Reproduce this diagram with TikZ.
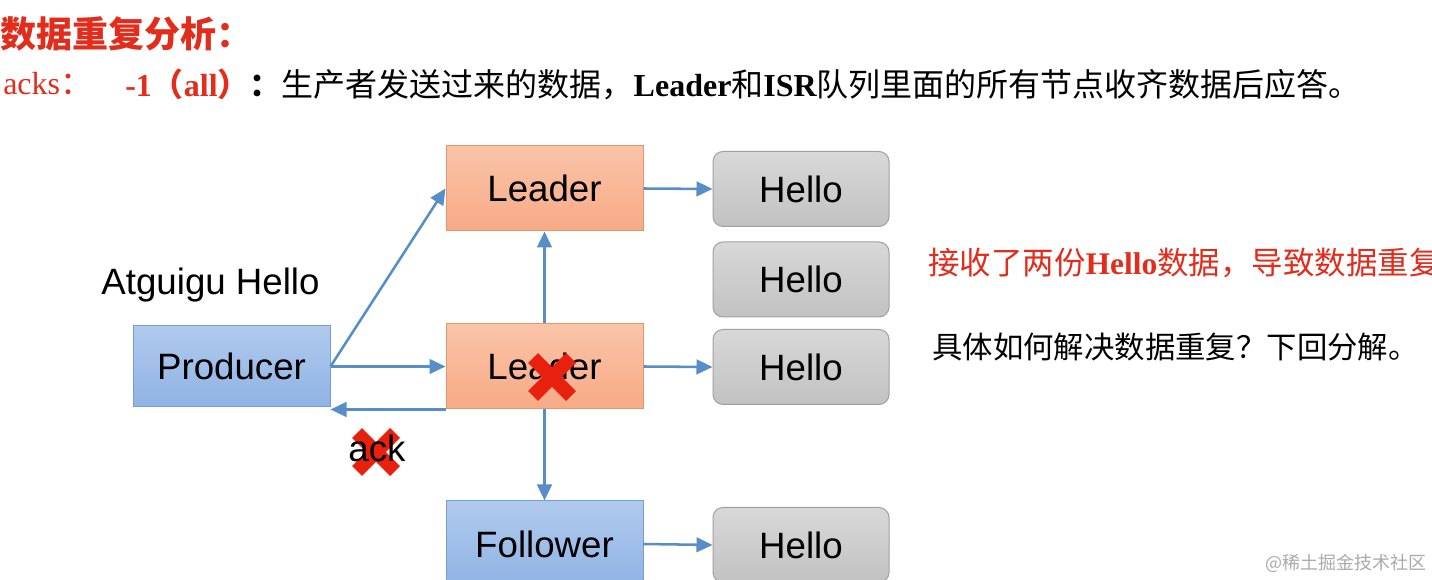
\documentclass[tikz,border=0pt]{standalone}
\usepackage{fontspec}
\setmainfont{Liberation Serif}
\setsansfont{Liberation Sans}
\newfontfamily\cjk{Noto Sans CJK SC}
\usetikzlibrary{arrows.meta}
\definecolor{redt}{RGB}{226,44,28}
\definecolor{xred}{RGB}{232,32,14}
\definecolor{arrc}{RGB}{88,142,200}
\definecolor{ldrT}{RGB}{250,196,168}
\definecolor{ldrD}{RGB}{247,170,134}
\definecolor{ldrB}{RGB}{226,150,110}
\definecolor{bluT}{RGB}{176,202,238}
\definecolor{bluD}{RGB}{143,179,228}
\definecolor{bluB}{RGB}{118,158,210}
\definecolor{helT}{RGB}{216,216,216}
\definecolor{helD}{RGB}{194,194,194}
\definecolor{helB}{RGB}{160,160,160}
\definecolor{wmk}{RGB}{170,170,170}
\begin{document}
\begin{tikzpicture}[x=0.75pt,y=-0.75pt,
  box/.style={draw, line width=0.75pt, minimum width=147.75pt, minimum height=63.75pt,
    inner sep=0pt, font=\sffamily\fontsize{27.5}{33}\selectfont},
  ldr/.style={box, draw=ldrB, top color=ldrT, bottom color=ldrD},
  blu/.style={box, draw=bluB, top color=bluT, bottom color=bluD},
  hel/.style={box, draw=helB, top color=helT, bottom color=helD, rounded corners=7.5pt,
    minimum width=132pt, minimum height=56.25pt},
  arr/.style={draw=arrc, line width=1.9pt, -{Triangle[length=12pt,width=11pt]}},
  xbar/.style={draw=xred, line width=10.5pt},
  lbl/.style={inner sep=0pt, font=\sffamily\fontsize{27.5}{33}\selectfont},
  txt/.style={inner sep=0pt, anchor=west, font=\fontsize{24}{28}\selectfont}
]
\useasboundingbox (0,0) rectangle (1432,580);
\fill[white] (0,0) rectangle (1432,580);
\clip (0,0) rectangle (1432,580);

% header texts
\node[txt, anchor=west, text=redt, font=\cjk\bfseries\fontsize{27}{32}\selectfont] (title) at (0,34) {数据重复分析：};
\node[txt, text=redt] (acks) at (3,84) {acks\cjk：};
\node[txt] (desc) at (125,84) {\textcolor{redt}{\bfseries -1{\cjk\bfseries（}all{\cjk\bfseries）}}{\cjk\bfseries：}\cjk 生产者发送过来的数据，{\rmfamily\bfseries Leader}和{\rmfamily\bfseries ISR}队列里面的所有节点收齐数据后应答。};

% boxes
\node[ldr] (lt) at (544.5,188.5) {Leader};
\node[ldr] (lm) at (544.5,366.5) {Leader};
\node[blu, minimum height=60.75pt] (prod) at (231.5,366.5) {Producer};
\node[blu, minimum height=64.5pt] (fol) at (544.5,544) {Follower};
\node[hel] (h1) at (801,189) {Hello};
\node[hel] (h2) at (801,279.5) {Hello};
\node[hel] (h3) at (801,367) {Hello};
\node[hel] (h4) at (801,545) {Hello};

\node[lbl] (msg) at (210.5,285) {Atguigu Hello};

% connectors
\draw[arr] (prod.east) -- (lt.west);
\draw[arr] (prod.east) -- (lm.west);
\draw[arr] (lm.south west) -- (lm.south west -| prod.east);
\draw[arr] (lm.north) -- (lt.south);
\draw[arr] (lm.south) -- (fol.north);
\draw[arr] (lt.east) -- (h1.west);
\draw[arr] (lm.east) -- (h3.west);
\draw[arr] (fol.east) -- (h4.west);

% red crosses
\coordinate (x1) at (552,377);
\draw[xbar] ([shift={(-19,-19)}]x1) -- ([shift={(19,19)}]x1);
\draw[xbar] ([shift={(-19,19)}]x1) -- ([shift={(19,-19)}]x1);
\coordinate (x2) at (376,452);
\draw[xbar] ([shift={(-19,-19)}]x2) -- ([shift={(19,19)}]x2);
\draw[xbar] ([shift={(-19,19)}]x2) -- ([shift={(19,-19)}]x2);
\node[lbl] (ack) at (377,448) {ack};

% right notes
\node[txt, text=redt, font=\fontsize{23.6}{28}\selectfont] (note1) at (928,263) {\cjk 接收了两份{\rmfamily\bfseries Hello}数据，导致数据重复};
\node[txt, font=\fontsize{22.8}{28}\selectfont] (note2) at (932,347) {\cjk 具体如何解决数据重复？下回分解。};

% watermark
\node[txt, text=wmk, font=\cjk\fontsize{13.5}{16}\selectfont] (wm) at (1265,563) {@稀土掘金技术社区};
\end{tikzpicture}
\end{document}
